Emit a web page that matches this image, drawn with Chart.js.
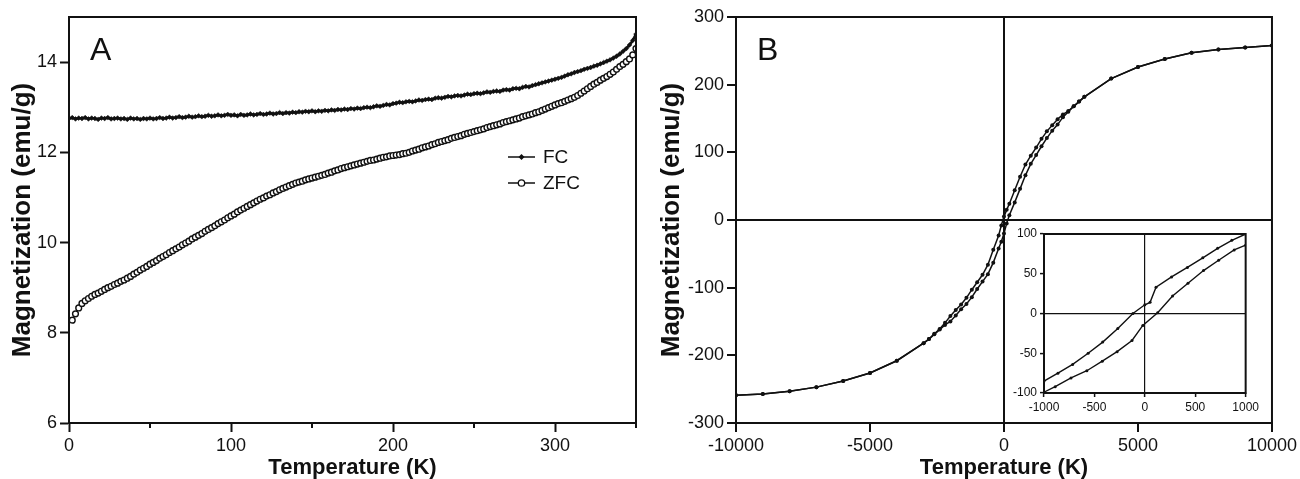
<!DOCTYPE html>
<html>
<head>
<meta charset="utf-8">
<script src="https://cdn.jsdelivr.net/npm/chart.js@4.4.1/dist/chart.umd.min.js"></script>
<style>
body{margin:0;background:#fff;width:1300px;height:479px;overflow:hidden;position:relative}
canvas{position:absolute}
#cA{left:0;top:0}
#cB{left:650px;top:0}
#cI{left:1000px;top:220px}
</style>
</head>
<body>
<canvas id="cA" width="650" height="479"></canvas>
<canvas id="cB" width="650" height="479"></canvas>
<canvas id="cI" width="262" height="200"></canvas>
<script>
// ---- panel A : M vs T (FC / ZFC) ----
let tempK=[0,2,4,6,8,10,12,14,16,18,20,22,24,26,28,30,32,34,36,38,
40,42,44,46,48,50,52,54,56,58,60,62,64,66,68,70,72,74,76,78,
80,82,84,86,88,90,92,94,96,98,100,102,104,106,108,110,112,114,116,118,
120,122,124,126,128,130,132,134,136,138,140,142,144,146,148,150,152,154,156,158,
160,162,164,166,168,170,172,174,176,178,180,182,184,186,188,190,192,194,196,198,
200,202,204,206,208,210,212,214,216,218,220,222,224,226,228,230,232,234,236,238,
240,242,244,246,248,250,252,254,256,258,260,262,264,266,268,270,272,274,276,278,
280,282,284,286,288,290,292,294,296,298,300,302,304,306,308,310,312,314,316,318,
320,322,324,326,328,330,332,334,336,338,340,342,344,346,348,350]

let fcMag=[12.75,12.77,12.74,12.76,12.75,12.77,12.74,12.76,12.75,12.73,12.76,12.75,12.77,12.74,12.75,12.76,12.74,12.75,12.73,12.76,
12.74,12.75,12.73,12.75,12.74,12.76,12.74,12.75,12.77,12.75,12.76,12.78,12.76,12.77,12.79,12.77,12.78,12.80,12.78,12.79,
12.81,12.79,12.80,12.82,12.80,12.81,12.83,12.81,12.82,12.84,12.82,12.83,12.81,12.84,12.82,12.83,12.85,12.83,12.84,12.86,
12.84,12.85,12.87,12.85,12.86,12.88,12.86,12.88,12.87,12.89,12.88,12.90,12.89,12.91,12.90,12.92,12.90,12.92,12.91,12.93,
12.92,12.94,12.93,12.95,12.94,12.96,12.95,12.97,12.96,12.98,12.97,12.99,13.00,12.99,13.01,13.03,13.02,13.04,13.06,13.05,
13.08,13.09,13.11,13.10,13.12,13.13,13.12,13.14,13.16,13.15,13.17,13.18,13.17,13.20,13.21,13.20,13.22,13.24,13.23,13.25,
13.26,13.25,13.27,13.29,13.28,13.30,13.31,13.30,13.32,13.34,13.33,13.35,13.36,13.35,13.38,13.39,13.38,13.41,13.42,13.41,
13.44,13.46,13.45,13.48,13.50,13.52,13.54,13.56,13.58,13.60,13.62,13.64,13.66,13.69,13.72,13.74,13.77,13.79,13.81,13.84,
13.86,13.88,13.91,13.93,13.96,13.99,14.02,14.05,14.09,14.13,14.18,14.24,14.30,14.38,14.48,14.62]

let zfcMag=[null,8.28,8.42,8.55,8.65,8.71,8.76,8.81,8.85,8.88,8.92,8.96,9.00,9.03,9.07,9.10,9.14,9.17,9.21,9.25,
9.30,9.34,9.39,9.43,9.47,9.52,9.56,9.60,9.65,9.69,9.73,9.78,9.82,9.86,9.90,9.95,9.99,10.03,10.08,10.12,
10.16,10.20,10.25,10.29,10.33,10.37,10.42,10.46,10.50,10.55,10.59,10.63,10.68,10.72,10.76,10.80,10.84,10.88,10.92,10.96,
10.99,11.03,11.06,11.10,11.13,11.17,11.20,11.23,11.26,11.29,11.32,11.34,11.36,11.39,11.41,11.43,11.45,11.47,11.49,11.51,
11.54,11.56,11.59,11.61,11.64,11.66,11.68,11.70,11.72,11.74,11.76,11.78,11.80,11.82,11.83,11.85,11.87,11.89,11.90,11.92,
11.93,11.94,11.95,11.97,11.98,12.00,12.03,12.05,12.07,12.10,12.12,12.14,12.17,12.19,12.22,12.24,12.26,12.28,12.31,12.33,
12.35,12.37,12.40,12.42,12.44,12.46,12.48,12.50,12.52,12.55,12.57,12.59,12.61,12.63,12.66,12.68,12.70,12.72,12.74,12.76,
12.79,12.81,12.83,12.85,12.88,12.90,12.93,12.96,12.99,13.02,13.05,13.08,13.10,13.13,13.16,13.19,13.22,13.26,13.31,13.36,
13.41,13.46,13.51,13.55,13.60,13.64,13.68,13.73,13.78,13.84,13.90,13.95,14.01,14.07,14.16,14.30]

let xTicksA=[0,100,200,300]
let xMinorA=[50,150,250,350]
let yTicksA=[6,8,10,12,14]

// ---- panel B : hysteresis loop ----
let fieldDown=[10000,9000,8000,7000,6000,5000,4000,3000,2800,2600,2400,2200,2000,1800,1600,1400,1200,1000,800,600,400,200,100,0,
-100,-200,-400,-600,-800,-1000,-1200,-1400,-1600,-1800,-2000,-2200,-2400,-2600,-2800,-3000,-4000,-5000,-6000,-7000,-8000,-9000,-10000]
let magDown=[258,255,252,247,238,226,209,182,175,168,161,156,149,140,131,120,107,95,82,64,44,24,15,5,
-8,-23,-44,-66,-81,-92,-103,-115,-125,-133,-142,-152,-161,-168,-176,-182,-208,-226,-238,-247,-253,-257,-259]

let fieldUp=[-10000,-9000,-8000,-7000,-6000,-5000,-4000,-3000,-2800,-2600,-2400,-2200,-2000,-1800,-1600,-1400,-1200,-1000,-800,-600,-400,-200,-100,0,
100,200,400,600,800,1000,1200,1400,1600,1800,2000,2200,2400,2600,2800,3000,4000,5000,6000,7000,8000,9000,10000]
let magUp=[-259,-257,-253,-247,-238,-226,-208,-182,-176,-169,-162,-155,-150,-141,-132,-124,-114,-102,-91,-80,-63,-42,-32,-20,
-5,7,26,46,66,83,96,109,121,132,141,152,160,168,175,182,209,226,238,247,252,255,258]

let xTicksB=[-10000,-5000,0,5000,10000]
let yTicksB=[-300,-200,-100,0,100,200,300]

// inset (low field part of the loop)
let insetFieldDown=[1000,863,722,575,422,265,111,52,0,-118,-268,-418,-562,-716,-862,-1000]
let insetMagDown=[100,92,82,70,58,46,33,14,11,0,-19,-36,-50,-64,-75,-85]
let insetFieldUp=[-1000,-889,-732,-575,-422,-275,-127,-20,127,275,428,582,732,886,1000]
let insetMagUp=[-99,-92,-81,-72,-60,-48,-34,-15,1,22,38,54,67,80,86]

let xTicksI=[-1000,-500,0,500,1000]
let yTicksI=[-100,-50,0,50,100]

const FONT="'Liberation Sans', Arial, Helvetica, sans-serif"
const INK="#111"

function xy(xs,ys){
return xs.map((x,i)=>({x:x,y:ys[i]}))
}

function setTicks(list){
return function(scale){ scale.ticks=list.map(v=>({value:v})) }
}

// box around plot area
const boxFrame={
id:"boxFrame",
afterDatasetsDraw(chart,args,o){
let a=chart.chartArea, ctx=chart.ctx
ctx.save()
ctx.strokeStyle=INK
ctx.lineWidth=o.width
ctx.strokeRect(a.left,a.top,a.right-a.left,a.bottom-a.top)
ctx.restore()
}
}

// big "A" / "B"
const panelTag={
id:"panelTag",
afterDraw(chart,args,o){
if(!o.text)return
let a=chart.chartArea, ctx=chart.ctx
ctx.save()
ctx.fillStyle=INK
ctx.font="32px "+FONT
ctx.fillText(o.text,a.left+o.dx,a.top+43)
ctx.restore()
}
}

// short unlabeled ticks on x axis of A
const minorTicks={
id:"minorTicks",
afterDraw(chart,args,o){
if(!o.values)return
let s=chart.scales.x, ctx=chart.ctx
ctx.save()
ctx.strokeStyle=INK
ctx.lineWidth=2
o.values.forEach(v=>{
let px=s.getPixelForValue(v)
ctx.beginPath()
ctx.moveTo(px,s.top)
ctx.lineTo(px,s.top+o.len)
ctx.stroke()
})
ctx.restore()
}
}

// legend inside panel A
const legendA={
id:"legendA",
afterDraw(chart,args,o){
if(!o.show)return
let a=chart.chartArea, ctx=chart.ctx
let x0=a.left+439
chart.data.datasets.forEach((ds,i)=>{
let y=a.top+140+i*26
ctx.save()
ctx.strokeStyle=INK
ctx.lineWidth=1.5
ctx.beginPath()
ctx.moveTo(x0,y)
ctx.lineTo(x0+27,y)
ctx.stroke()
ctx.beginPath()
if(ds.pointStyle==="rectRot"){
ctx.fillStyle=INK
ctx.moveTo(x0+13.5,y-3);ctx.lineTo(x0+16.5,y);ctx.lineTo(x0+13.5,y+3);ctx.lineTo(x0+10.5,y)
ctx.closePath()
ctx.fill()
}else{
ctx.fillStyle="#fff"
ctx.lineWidth=1.3
ctx.arc(x0+13.5,y,3.2,0,Math.PI*2)
ctx.fill()
ctx.stroke()
}
ctx.fillStyle=INK
ctx.font="19px "+FONT
ctx.textBaseline="middle"
ctx.fillText(ds.label,x0+35,y+1)
ctx.restore()
})
}
}

function axisStyle(size,bw){
return {
border:{color:INK,width:bw},
ticks:{color:INK,font:{family:FONT,size:size},padding:3,maxRotation:0,callback:v=>String(v)}
}
}

window.onload=function(){

// Panel A
new Chart(document.getElementById("cA"),{
type:"scatter",
data:{
datasets:[{
label:"FC",
data:xy(tempK,fcMag),
showLine:true,
borderColor:INK,
borderWidth:2.6,
pointStyle:"rectRot",
pointRadius:2.4,
backgroundColor:INK,
pointBorderWidth:0.5
},{
label:"ZFC",
data:xy(tempK,zfcMag),
showLine:true,
borderColor:INK,
borderWidth:1,
pointStyle:"circle",
pointRadius:2.9,
pointBorderWidth:1.4,
pointBackgroundColor:"#fff",
pointBorderColor:INK
}]
},
options:{
responsive:false,
animation:false,
devicePixelRatio:1,
layout:{padding:{top:17,right:14,left:0,bottom:0}},
plugins:{
legend:{display:false},
tooltip:{enabled:false},
boxFrame:{width:2},
panelTag:{text:"A",dx:21},
minorTicks:{values:xMinorA,len:5},
legendA:{show:true}
},
scales:{
x:Object.assign(axisStyle(18,2),{
type:"linear",min:0,max:350,
afterBuildTicks:setTicks(xTicksA),
afterFit:s=>{s.height=56},
grid:{drawOnChartArea:false,color:INK,tickLength:9,tickWidth:2},
title:{display:true,text:"Temperature (K)",color:INK,font:{family:FONT,size:22,weight:"bold",lineHeight:1},padding:{top:0,bottom:0}}
}),
y:Object.assign(axisStyle(18,2),{
type:"linear",min:6,max:15,
afterBuildTicks:setTicks(yTicksA),
afterFit:s=>{s.width=69},
grid:{drawOnChartArea:false,color:INK,tickLength:9,tickWidth:2},
title:{display:true,text:"Magnetization (emu/g)",color:INK,font:{family:FONT,size:26,weight:"bold",lineHeight:1},padding:{top:10,bottom:0}}
})
}
},
plugins:[boxFrame,panelTag,minorTicks,legendA]
})

// Panel B
const zeroLine=c=>(c.tick&&c.tick.value===0)?INK:"rgba(0,0,0,0)"

new Chart(document.getElementById("cB"),{
type:"scatter",
data:{
datasets:[{
label:"down",
data:xy(fieldDown,magDown),
showLine:true,
borderColor:INK,
borderWidth:1.5,
pointRadius:2,
pointBackgroundColor:INK,
pointBorderWidth:0
},{
label:"up",
data:xy(fieldUp,magUp),
showLine:true,
borderColor:INK,
borderWidth:1.5,
pointRadius:2,
pointBackgroundColor:INK,
pointBorderWidth:0
}]
},
options:{
responsive:false,
animation:false,
devicePixelRatio:1,
layout:{padding:{top:17,right:28,left:0,bottom:0}},
plugins:{
legend:{display:false},
tooltip:{enabled:false},
boxFrame:{width:2},
panelTag:{text:"B",dx:21}
},
scales:{
x:Object.assign(axisStyle(18,2),{
type:"linear",min:-10000,max:10000,
afterBuildTicks:setTicks(xTicksB),
afterFit:s=>{s.height=56},
grid:{drawOnChartArea:true,color:zeroLine,lineWidth:2,tickColor:INK,tickLength:9,tickWidth:2},
title:{display:true,text:"Temperature (K)",color:INK,font:{family:FONT,size:22,weight:"bold",lineHeight:1},padding:{top:0,bottom:0}}
}),
y:Object.assign(axisStyle(18,2),{
type:"linear",min:-300,max:300,
afterBuildTicks:setTicks(yTicksB),
afterFit:s=>{s.width=86},
grid:{drawOnChartArea:true,color:zeroLine,lineWidth:2,tickColor:INK,tickLength:9,tickWidth:2},
title:{display:true,text:"Magnetization (emu/g)",color:INK,font:{family:FONT,size:26,weight:"bold",lineHeight:1},padding:{top:9,bottom:0}}
})
}
},
plugins:[boxFrame,panelTag]
})

// Inset
new Chart(document.getElementById("cI"),{
type:"scatter",
data:{
datasets:[{
label:"down",
data:xy(insetFieldDown,insetMagDown),
showLine:true,
borderColor:INK,
borderWidth:1.4,
pointRadius:1.5,
pointBackgroundColor:INK,
pointBorderWidth:0
},{
label:"up",
data:xy(insetFieldUp,insetMagUp),
showLine:true,
borderColor:INK,
borderWidth:1.4,
pointRadius:1.5,
pointBackgroundColor:INK,
pointBorderWidth:0
}]
},
options:{
responsive:false,
animation:false,
devicePixelRatio:1,
layout:{padding:{top:14,right:14,left:0,bottom:0}},
plugins:{
legend:{display:false},
tooltip:{enabled:false},
boxFrame:{width:2}
},
scales:{
x:Object.assign(axisStyle(12,1.5),{
type:"linear",min:-1000,max:1000,
afterBuildTicks:setTicks(xTicksI),
afterFit:s=>{s.height=27},
grid:{drawOnChartArea:true,color:zeroLine,lineWidth:1.2,tickColor:INK,tickLength:4,tickWidth:1.5}
}),
y:Object.assign(axisStyle(12,1.5),{
type:"linear",min:-100,max:100,
afterBuildTicks:setTicks(yTicksI),
afterFit:s=>{s.width=44},
grid:{drawOnChartArea:true,color:zeroLine,lineWidth:1.2,tickColor:INK,tickLength:4,tickWidth:1.5}
})
}
},
plugins:[boxFrame]
})

}
</script>
</body>
</html>
